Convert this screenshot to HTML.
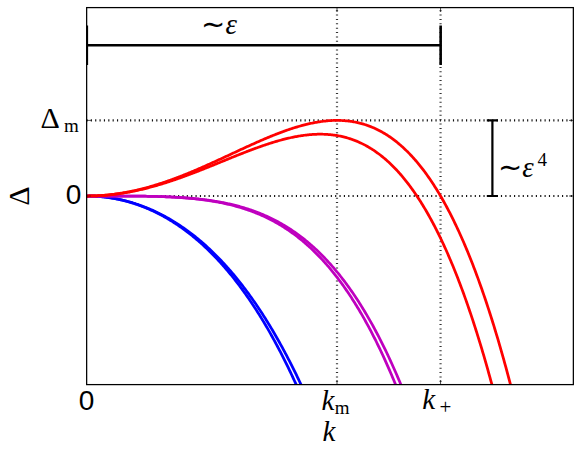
<!DOCTYPE html>
<html><head><meta charset="utf-8"><title>plot</title>
<style>
html,body{margin:0;padding:0;background:#fff;}
body{width:581px;height:455px;overflow:hidden;font-family:"Liberation Sans",sans-serif;}
svg{display:block;}
</style></head><body>
<svg width="581" height="455" viewBox="0 0 581 455">
<rect width="581" height="455" fill="#fff"/>
<defs><clipPath id="ax"><rect x="86.5" y="7.5" width="487" height="377"/></clipPath></defs>
<g stroke="#141414" stroke-width="2.2" stroke-dasharray="1.150 3.213" fill="none">
<line x1="86.43" y1="120.40" x2="573.5" y2="120.40"/>
<line x1="86.43" y1="196.0" x2="573.5" y2="196.0"/>
</g>
<g stroke="#333" stroke-width="2.2" stroke-dasharray="1.000 3.359" fill="none">
<line x1="337.00" y1="10.24" x2="337.00" y2="384.5"/>
<line x1="440.55" y1="10.24" x2="440.55" y2="384.5"/>
</g>
<g clip-path="url(#ax)" fill="none" stroke-width="2.75" stroke-linejoin="round">
<path d="M87.00,196.00 L88.00,196.00 L89.00,196.01 L90.01,196.03 L91.01,196.05 L92.01,196.08 L93.01,196.12 L94.01,196.16 L95.02,196.21 L96.02,196.26 L97.02,196.33 L98.02,196.40 L99.02,196.47 L100.03,196.55 L101.03,196.64 L102.03,196.74 L103.03,196.84 L104.03,196.95 L105.04,197.06 L106.04,197.18 L107.04,197.31 L108.04,197.44 L109.04,197.58 L110.05,197.73 L111.05,197.89 L112.05,198.05 L113.05,198.22 L114.05,198.39 L115.06,198.57 L116.06,198.76 L117.06,198.95 L118.06,199.16 L119.06,199.36 L120.07,199.58 L121.07,199.80 L122.07,200.03 L123.07,200.26 L124.07,200.51 L125.08,200.75 L126.08,201.01 L127.08,201.27 L128.08,201.54 L129.08,201.82 L130.09,202.10 L131.09,202.39 L132.09,202.69 L133.09,202.99 L134.09,203.31 L135.10,203.62 L136.10,203.95 L137.10,204.28 L138.10,204.62 L139.10,204.97 L140.11,205.32 L141.11,205.68 L142.11,206.05 L143.11,206.43 L144.11,206.81 L145.12,207.20 L146.12,207.60 L147.12,208.00 L148.12,208.41 L149.12,208.83 L150.13,209.26 L151.13,209.69 L152.13,210.13 L153.13,210.58 L154.13,211.04 L155.14,211.50 L156.14,211.98 L157.14,212.46 L158.14,212.94 L159.14,213.44 L160.15,213.94 L161.15,214.45 L162.15,214.97 L163.15,215.49 L164.15,216.03 L165.16,216.57 L166.16,217.12 L167.16,217.68 L168.16,218.24 L169.16,218.81 L170.17,219.40 L171.17,219.99 L172.17,220.58 L173.17,221.19 L174.17,221.80 L175.18,222.43 L176.18,223.06 L177.18,223.70 L178.18,224.34 L179.18,225.00 L180.19,225.66 L181.19,226.34 L182.19,227.02 L183.19,227.71 L184.19,228.41 L185.20,229.11 L186.20,229.83 L187.20,230.55 L188.20,231.29 L189.20,232.03 L190.21,232.78 L191.21,233.54 L192.21,234.31 L193.21,235.09 L194.21,235.88 L195.22,236.67 L196.22,237.48 L197.22,238.29 L198.22,239.12 L199.22,239.95 L200.23,240.80 L201.23,241.65 L202.23,242.51 L203.23,243.38 L204.23,244.26 L205.24,245.15 L206.24,246.05 L207.24,246.97 L208.24,247.89 L209.24,248.82 L210.25,249.76 L211.25,250.71 L212.25,251.67 L213.25,252.64 L214.25,253.62 L215.26,254.61 L216.26,255.61 L217.26,256.62 L218.26,257.64 L219.26,258.67 L220.27,259.71 L221.27,260.77 L222.27,261.83 L223.27,262.91 L224.27,263.99 L225.28,265.09 L226.28,266.19 L227.28,267.31 L228.28,268.44 L229.28,269.58 L230.29,270.73 L231.29,271.89 L232.29,273.07 L233.29,274.25 L234.29,275.45 L235.30,276.66 L236.30,277.88 L237.30,279.11 L238.30,280.35 L239.30,281.60 L240.31,282.87 L241.31,284.15 L242.31,285.44 L243.31,286.74 L244.31,288.05 L245.32,289.38 L246.32,290.72 L247.32,292.07 L248.32,293.43 L249.32,294.81 L250.33,296.20 L251.33,297.60 L252.33,299.01 L253.33,300.44 L254.33,301.88 L255.34,303.33 L256.34,304.79 L257.34,306.27 L258.34,307.76 L259.34,309.27 L260.35,310.78 L261.35,312.31 L262.35,313.86 L263.35,315.42 L264.35,316.99 L265.36,318.57 L266.36,320.17 L267.36,321.79 L268.36,323.41 L269.36,325.05 L270.37,326.71 L271.37,328.38 L272.37,330.06 L273.37,331.76 L274.37,333.47 L275.38,335.20 L276.38,336.94 L277.38,338.70 L278.38,340.47 L279.38,342.25 L280.39,344.05 L281.39,345.87 L282.39,347.70 L283.39,349.55 L284.39,351.41 L285.40,353.28 L286.40,355.18 L287.40,357.08 L288.40,359.01 L289.40,360.95 L290.41,362.90 L291.41,364.87 L292.41,366.86 L293.41,368.86 L294.41,370.88 L295.42,372.92 L296.42,374.97 L297.42,377.04 L298.42,379.13 L299.42,381.23 L300.43,383.35 L301.43,385.48 L302.43,387.64 L303.43,389.81 L304.43,391.99 L305.44,394.20 L306.44,396.42 L307.44,398.66 L308.44,400.92" stroke="#0000ff"/>
<path d="M87.00,196.00 L88.00,196.00 L89.00,196.01 L90.01,196.03 L91.01,196.05 L92.01,196.08 L93.01,196.12 L94.01,196.16 L95.02,196.22 L96.02,196.27 L97.02,196.34 L98.02,196.41 L99.02,196.48 L100.03,196.57 L101.03,196.66 L102.03,196.76 L103.03,196.86 L104.03,196.97 L105.04,197.09 L106.04,197.22 L107.04,197.35 L108.04,197.49 L109.04,197.63 L110.05,197.79 L111.05,197.94 L112.05,198.11 L113.05,198.28 L114.05,198.46 L115.06,198.65 L116.06,198.84 L117.06,199.05 L118.06,199.25 L119.06,199.47 L120.07,199.69 L121.07,199.92 L122.07,200.15 L123.07,200.40 L124.07,200.65 L125.08,200.90 L126.08,201.17 L127.08,201.44 L128.08,201.72 L129.08,202.00 L130.09,202.29 L131.09,202.59 L132.09,202.90 L133.09,203.22 L134.09,203.54 L135.10,203.87 L136.10,204.20 L137.10,204.55 L138.10,204.90 L139.10,205.26 L140.11,205.62 L141.11,206.00 L142.11,206.38 L143.11,206.77 L144.11,207.16 L145.12,207.56 L146.12,207.98 L147.12,208.39 L148.12,208.82 L149.12,209.26 L150.13,209.70 L151.13,210.15 L152.13,210.61 L153.13,211.07 L154.13,211.54 L155.14,212.03 L156.14,212.51 L157.14,213.01 L158.14,213.52 L159.14,214.03 L160.15,214.55 L161.15,215.08 L162.15,215.62 L163.15,216.16 L164.15,216.72 L165.16,217.28 L166.16,217.85 L167.16,218.43 L168.16,219.02 L169.16,219.62 L170.17,220.22 L171.17,220.83 L172.17,221.45 L173.17,222.09 L174.17,222.72 L175.18,223.37 L176.18,224.03 L177.18,224.69 L178.18,225.37 L179.18,226.05 L180.19,226.74 L181.19,227.45 L182.19,228.16 L183.19,228.88 L184.19,229.60 L185.20,230.34 L186.20,231.09 L187.20,231.85 L188.20,232.61 L189.20,233.39 L190.21,234.17 L191.21,234.97 L192.21,235.77 L193.21,236.58 L194.21,237.41 L195.22,238.24 L196.22,239.08 L197.22,239.93 L198.22,240.80 L199.22,241.67 L200.23,242.55 L201.23,243.45 L202.23,244.35 L203.23,245.26 L204.23,246.19 L205.24,247.12 L206.24,248.06 L207.24,249.02 L208.24,249.98 L209.24,250.96 L210.25,251.95 L211.25,252.94 L212.25,253.95 L213.25,254.97 L214.25,256.00 L215.26,257.04 L216.26,258.09 L217.26,259.16 L218.26,260.23 L219.26,261.32 L220.27,262.41 L221.27,263.52 L222.27,264.64 L223.27,265.77 L224.27,266.92 L225.28,268.07 L226.28,269.24 L227.28,270.42 L228.28,271.61 L229.28,272.81 L230.29,274.02 L231.29,275.25 L232.29,276.49 L233.29,277.74 L234.29,279.00 L235.30,280.28 L236.30,281.57 L237.30,282.87 L238.30,284.18 L239.30,285.51 L240.31,286.85 L241.31,288.20 L242.31,289.57 L243.31,290.95 L244.31,292.34 L245.32,293.74 L246.32,295.16 L247.32,296.59 L248.32,298.04 L249.32,299.50 L250.33,300.97 L251.33,302.46 L252.33,303.96 L253.33,305.47 L254.33,307.00 L255.34,308.54 L256.34,310.10 L257.34,311.67 L258.34,313.25 L259.34,314.85 L260.35,316.47 L261.35,318.10 L262.35,319.74 L263.35,321.40 L264.35,323.07 L265.36,324.76 L266.36,326.47 L267.36,328.18 L268.36,329.92 L269.36,331.67 L270.37,333.43 L271.37,335.22 L272.37,337.01 L273.37,338.82 L274.37,340.65 L275.38,342.50 L276.38,344.36 L277.38,346.23 L278.38,348.13 L279.38,350.04 L280.39,351.96 L281.39,353.90 L282.39,355.86 L283.39,357.84 L284.39,359.83 L285.40,361.84 L286.40,363.87 L287.40,365.91 L288.40,367.97 L289.40,370.05 L290.41,372.15 L291.41,374.26 L292.41,376.40 L293.41,378.55 L294.41,380.71 L295.42,382.90 L296.42,385.10 L297.42,387.33 L298.42,389.57 L299.42,391.83 L300.43,394.10 L301.43,396.40 L302.43,398.72 L303.43,401.05" stroke="#0000ff"/>
<path d="M87.00,196.00 L88.00,196.00 L89.00,196.00 L90.01,196.00 L91.01,196.00 L92.01,196.00 L93.01,196.00 L94.01,196.00 L95.02,196.00 L96.02,196.00 L97.02,196.00 L98.02,196.00 L99.02,196.00 L100.03,196.00 L101.03,196.00 L102.03,196.00 L103.03,196.00 L104.03,196.00 L105.04,196.00 L106.04,196.00 L107.04,196.00 L108.04,196.00 L109.04,196.00 L110.05,196.01 L111.05,196.01 L112.05,196.01 L113.05,196.01 L114.05,196.01 L115.06,196.01 L116.06,196.01 L117.06,196.02 L118.06,196.02 L119.06,196.02 L120.07,196.02 L121.07,196.03 L122.07,196.03 L123.07,196.03 L124.07,196.04 L125.08,196.04 L126.08,196.05 L127.08,196.05 L128.08,196.06 L129.08,196.06 L130.09,196.07 L131.09,196.07 L132.09,196.08 L133.09,196.09 L134.09,196.10 L135.10,196.10 L136.10,196.11 L137.10,196.12 L138.10,196.13 L139.10,196.14 L140.11,196.15 L141.11,196.17 L142.11,196.18 L143.11,196.19 L144.11,196.21 L145.12,196.22 L146.12,196.24 L147.12,196.25 L148.12,196.27 L149.12,196.29 L150.13,196.31 L151.13,196.33 L152.13,196.35 L153.13,196.37 L154.13,196.39 L155.14,196.42 L156.14,196.44 L157.14,196.47 L158.14,196.50 L159.14,196.53 L160.15,196.56 L161.15,196.59 L162.15,196.62 L163.15,196.65 L164.15,196.69 L165.16,196.72 L166.16,196.76 L167.16,196.80 L168.16,196.84 L169.16,196.89 L170.17,196.93 L171.17,196.97 L172.17,197.02 L173.17,197.07 L174.17,197.12 L175.18,197.17 L176.18,197.23 L177.18,197.28 L178.18,197.34 L179.18,197.40 L180.19,197.46 L181.19,197.53 L182.19,197.60 L183.19,197.66 L184.19,197.73 L185.20,197.81 L186.20,197.88 L187.20,197.96 L188.20,198.04 L189.20,198.12 L190.21,198.20 L191.21,198.29 L192.21,198.38 L193.21,198.47 L194.21,198.57 L195.22,198.66 L196.22,198.76 L197.22,198.87 L198.22,198.97 L199.22,199.08 L200.23,199.19 L201.23,199.31 L202.23,199.43 L203.23,199.55 L204.23,199.67 L205.24,199.80 L206.24,199.93 L207.24,200.06 L208.24,200.20 L209.24,200.34 L210.25,200.48 L211.25,200.63 L212.25,200.78 L213.25,200.94 L214.25,201.09 L215.26,201.26 L216.26,201.42 L217.26,201.59 L218.26,201.77 L219.26,201.95 L220.27,202.13 L221.27,202.31 L222.27,202.50 L223.27,202.70 L224.27,202.90 L225.28,203.10 L226.28,203.31 L227.28,203.52 L228.28,203.74 L229.28,203.96 L230.29,204.19 L231.29,204.42 L232.29,204.66 L233.29,204.90 L234.29,205.14 L235.30,205.40 L236.30,205.65 L237.30,205.91 L238.30,206.18 L239.30,206.45 L240.31,206.73 L241.31,207.01 L242.31,207.30 L243.31,207.60 L244.31,207.90 L245.32,208.20 L246.32,208.52 L247.32,208.83 L248.32,209.16 L249.32,209.49 L250.33,209.82 L251.33,210.17 L252.33,210.52 L253.33,210.87 L254.33,211.23 L255.34,211.60 L256.34,211.97 L257.34,212.36 L258.34,212.74 L259.34,213.14 L260.35,213.54 L261.35,213.95 L262.35,214.37 L263.35,214.79 L264.35,215.22 L265.36,215.66 L266.36,216.10 L267.36,216.56 L268.36,217.02 L269.36,217.49 L270.37,217.96 L271.37,218.45 L272.37,218.94 L273.37,219.44 L274.37,219.95 L275.38,220.46 L276.38,220.99 L277.38,221.52 L278.38,222.06 L279.38,222.61 L280.39,223.17 L281.39,223.74 L282.39,224.32 L283.39,224.90 L284.39,225.50 L285.40,226.10 L286.40,226.71 L287.40,227.33 L288.40,227.96 L289.40,228.61 L290.41,229.26 L291.41,229.92 L292.41,230.59 L293.41,231.27 L294.41,231.96 L295.42,232.66 L296.42,233.37 L297.42,234.09 L298.42,234.82 L299.42,235.56 L300.43,236.31 L301.43,237.07 L302.43,237.84 L303.43,238.63 L304.43,239.42 L305.44,240.23 L306.44,241.05 L307.44,241.88 L308.44,242.71 L309.44,243.57 L310.45,244.43 L311.45,245.30 L312.45,246.19 L313.45,247.09 L314.45,248.00 L315.46,248.92 L316.46,249.86 L317.46,250.80 L318.46,251.76 L319.46,252.73 L320.47,253.72 L321.47,254.72 L322.47,255.73 L323.47,256.75 L324.47,257.78 L325.48,258.83 L326.48,259.90 L327.48,260.97 L328.48,262.06 L329.48,263.17 L330.49,264.28 L331.49,265.41 L332.49,266.56 L333.49,267.72 L334.49,268.89 L335.50,270.08 L336.50,271.28 L337.50,272.50 L338.50,273.73 L339.51,274.97 L340.51,276.24 L341.51,277.51 L342.51,278.80 L343.51,280.11 L344.52,281.43 L345.52,282.77 L346.52,284.12 L347.52,285.49 L348.52,286.88 L349.53,288.28 L350.53,289.69 L351.53,291.13 L352.53,292.58 L353.53,294.04 L354.54,295.52 L355.54,297.02 L356.54,298.54 L357.54,300.07 L358.54,301.62 L359.55,303.19 L360.55,304.78 L361.55,306.38 L362.55,308.00 L363.55,309.64 L364.56,311.29 L365.56,312.97 L366.56,314.66 L367.56,316.37 L368.56,318.10 L369.57,319.85 L370.57,321.61 L371.57,323.40 L372.57,325.20 L373.57,327.02 L374.58,328.87 L375.58,330.73 L376.58,332.61 L377.58,334.51 L378.58,336.43 L379.59,338.37 L380.59,340.33 L381.59,342.31 L382.59,344.31 L383.59,346.33 L384.60,348.37 L385.60,350.44 L386.60,352.52 L387.60,354.63 L388.60,356.75 L389.61,358.90 L390.61,361.07 L391.61,363.26 L392.61,365.47 L393.61,367.70 L394.62,369.96 L395.62,372.23 L396.62,374.53 L397.62,376.86 L398.62,379.20 L399.63,381.57 L400.63,383.96 L401.63,386.37 L402.63,388.81 L403.63,391.27 L404.64,393.75 L405.64,396.26 L406.64,398.79 L407.64,401.35" stroke="#bf00bf"/>
<path d="M87.00,196.00 L88.00,196.00 L89.00,196.00 L90.01,196.00 L91.01,196.00 L92.01,196.00 L93.01,196.00 L94.01,196.00 L95.02,196.00 L96.02,196.00 L97.02,196.00 L98.02,196.00 L99.02,196.00 L100.03,196.00 L101.03,196.00 L102.03,196.00 L103.03,196.00 L104.03,196.00 L105.04,196.00 L106.04,196.00 L107.04,196.00 L108.04,196.00 L109.04,196.00 L110.05,196.01 L111.05,196.01 L112.05,196.01 L113.05,196.01 L114.05,196.01 L115.06,196.01 L116.06,196.01 L117.06,196.02 L118.06,196.02 L119.06,196.02 L120.07,196.02 L121.07,196.03 L122.07,196.03 L123.07,196.04 L124.07,196.04 L125.08,196.04 L126.08,196.05 L127.08,196.05 L128.08,196.06 L129.08,196.07 L130.09,196.07 L131.09,196.08 L132.09,196.09 L133.09,196.09 L134.09,196.10 L135.10,196.11 L136.10,196.12 L137.10,196.13 L138.10,196.14 L139.10,196.15 L140.11,196.17 L141.11,196.18 L142.11,196.19 L143.11,196.21 L144.11,196.22 L145.12,196.24 L146.12,196.25 L147.12,196.27 L148.12,196.29 L149.12,196.31 L150.13,196.33 L151.13,196.35 L152.13,196.37 L153.13,196.40 L154.13,196.42 L155.14,196.45 L156.14,196.48 L157.14,196.50 L158.14,196.53 L159.14,196.56 L160.15,196.60 L161.15,196.63 L162.15,196.66 L163.15,196.70 L164.15,196.74 L165.16,196.78 L166.16,196.82 L167.16,196.86 L168.16,196.90 L169.16,196.95 L170.17,197.00 L171.17,197.04 L172.17,197.09 L173.17,197.15 L174.17,197.20 L175.18,197.26 L176.18,197.32 L177.18,197.38 L178.18,197.44 L179.18,197.50 L180.19,197.57 L181.19,197.64 L182.19,197.71 L183.19,197.78 L184.19,197.86 L185.20,197.93 L186.20,198.01 L187.20,198.10 L188.20,198.18 L189.20,198.27 L190.21,198.36 L191.21,198.45 L192.21,198.55 L193.21,198.65 L194.21,198.75 L195.22,198.85 L196.22,198.96 L197.22,199.07 L198.22,199.18 L199.22,199.30 L200.23,199.42 L201.23,199.54 L202.23,199.67 L203.23,199.80 L204.23,199.93 L205.24,200.06 L206.24,200.20 L207.24,200.35 L208.24,200.49 L209.24,200.64 L210.25,200.80 L211.25,200.96 L212.25,201.12 L213.25,201.28 L214.25,201.45 L215.26,201.63 L216.26,201.81 L217.26,201.99 L218.26,202.17 L219.26,202.37 L220.27,202.56 L221.27,202.76 L222.27,202.96 L223.27,203.17 L224.27,203.39 L225.28,203.60 L226.28,203.83 L227.28,204.05 L228.28,204.29 L229.28,204.52 L230.29,204.77 L231.29,205.02 L232.29,205.27 L233.29,205.53 L234.29,205.79 L235.30,206.06 L236.30,206.33 L237.30,206.61 L238.30,206.90 L239.30,207.19 L240.31,207.49 L241.31,207.79 L242.31,208.10 L243.31,208.42 L244.31,208.74 L245.32,209.07 L246.32,209.40 L247.32,209.74 L248.32,210.09 L249.32,210.44 L250.33,210.80 L251.33,211.17 L252.33,211.54 L253.33,211.92 L254.33,212.31 L255.34,212.70 L256.34,213.10 L257.34,213.51 L258.34,213.93 L259.34,214.35 L260.35,214.78 L261.35,215.22 L262.35,215.66 L263.35,216.12 L264.35,216.58 L265.36,217.05 L266.36,217.52 L267.36,218.01 L268.36,218.50 L269.36,219.00 L270.37,219.51 L271.37,220.03 L272.37,220.56 L273.37,221.09 L274.37,221.64 L275.38,222.19 L276.38,222.75 L277.38,223.32 L278.38,223.90 L279.38,224.49 L280.39,225.09 L281.39,225.70 L282.39,226.32 L283.39,226.94 L284.39,227.58 L285.40,228.22 L286.40,228.88 L287.40,229.55 L288.40,230.22 L289.40,230.91 L290.41,231.61 L291.41,232.31 L292.41,233.03 L293.41,233.76 L294.41,234.50 L295.42,235.24 L296.42,236.00 L297.42,236.78 L298.42,237.56 L299.42,238.35 L300.43,239.16 L301.43,239.97 L302.43,240.80 L303.43,241.64 L304.43,242.49 L305.44,243.35 L306.44,244.23 L307.44,245.12 L308.44,246.01 L309.44,246.93 L310.45,247.85 L311.45,248.79 L312.45,249.73 L313.45,250.70 L314.45,251.67 L315.46,252.66 L316.46,253.66 L317.46,254.67 L318.46,255.70 L319.46,256.74 L320.47,257.79 L321.47,258.86 L322.47,259.94 L323.47,261.04 L324.47,262.15 L325.48,263.27 L326.48,264.41 L327.48,265.56 L328.48,266.73 L329.48,267.91 L330.49,269.11 L331.49,270.32 L332.49,271.54 L333.49,272.78 L334.49,274.04 L335.50,275.31 L336.50,276.60 L337.50,277.90 L338.50,279.22 L339.51,280.55 L340.51,281.90 L341.51,283.27 L342.51,284.65 L343.51,286.05 L344.52,287.47 L345.52,288.90 L346.52,290.35 L347.52,291.81 L348.52,293.29 L349.53,294.79 L350.53,296.31 L351.53,297.85 L352.53,299.40 L353.53,300.97 L354.54,302.55 L355.54,304.16 L356.54,305.78 L357.54,307.42 L358.54,309.08 L359.55,310.76 L360.55,312.46 L361.55,314.18 L362.55,315.91 L363.55,317.66 L364.56,319.44 L365.56,321.23 L366.56,323.04 L367.56,324.87 L368.56,326.72 L369.57,328.59 L370.57,330.48 L371.57,332.40 L372.57,334.33 L373.57,336.28 L374.58,338.25 L375.58,340.24 L376.58,342.26 L377.58,344.29 L378.58,346.35 L379.59,348.43 L380.59,350.52 L381.59,352.64 L382.59,354.79 L383.59,356.95 L384.60,359.14 L385.60,361.35 L386.60,363.58 L387.60,365.83 L388.60,368.10 L389.61,370.40 L390.61,372.72 L391.61,375.07 L392.61,377.44 L393.61,379.83 L394.62,382.24 L395.62,384.68 L396.62,387.14 L397.62,389.63 L398.62,392.14 L399.63,394.68 L400.63,397.24 L401.63,399.82 L402.63,402.43" stroke="#bf00bf"/>
<path d="M87.00,196.00 L88.00,196.00 L89.00,195.99 L90.01,195.98 L91.01,195.96 L92.01,195.94 L93.01,195.91 L94.01,195.88 L95.02,195.84 L96.02,195.80 L97.02,195.76 L98.02,195.71 L99.02,195.65 L100.03,195.59 L101.03,195.52 L102.03,195.45 L103.03,195.38 L104.03,195.30 L105.04,195.22 L106.04,195.13 L107.04,195.03 L108.04,194.93 L109.04,194.83 L110.05,194.72 L111.05,194.61 L112.05,194.49 L113.05,194.37 L114.05,194.24 L115.06,194.11 L116.06,193.97 L117.06,193.83 L118.06,193.68 L119.06,193.53 L120.07,193.38 L121.07,193.22 L122.07,193.05 L123.07,192.88 L124.07,192.71 L125.08,192.53 L126.08,192.35 L127.08,192.16 L128.08,191.97 L129.08,191.78 L130.09,191.58 L131.09,191.37 L132.09,191.16 L133.09,190.95 L134.09,190.73 L135.10,190.51 L136.10,190.28 L137.10,190.05 L138.10,189.81 L139.10,189.57 L140.11,189.33 L141.11,189.08 L142.11,188.83 L143.11,188.57 L144.11,188.31 L145.12,188.05 L146.12,187.78 L147.12,187.51 L148.12,187.23 L149.12,186.95 L150.13,186.67 L151.13,186.38 L152.13,186.09 L153.13,185.79 L154.13,185.49 L155.14,185.19 L156.14,184.88 L157.14,184.57 L158.14,184.25 L159.14,183.93 L160.15,183.61 L161.15,183.28 L162.15,182.95 L163.15,182.62 L164.15,182.28 L165.16,181.94 L166.16,181.60 L167.16,181.25 L168.16,180.90 L169.16,180.55 L170.17,180.19 L171.17,179.83 L172.17,179.47 L173.17,179.10 L174.17,178.73 L175.18,178.36 L176.18,177.98 L177.18,177.61 L178.18,177.22 L179.18,176.84 L180.19,176.45 L181.19,176.06 L182.19,175.67 L183.19,175.27 L184.19,174.87 L185.20,174.47 L186.20,174.07 L187.20,173.66 L188.20,173.25 L189.20,172.84 L190.21,172.43 L191.21,172.01 L192.21,171.59 L193.21,171.17 L194.21,170.75 L195.22,170.32 L196.22,169.90 L197.22,169.47 L198.22,169.04 L199.22,168.60 L200.23,168.17 L201.23,167.73 L202.23,167.29 L203.23,166.85 L204.23,166.41 L205.24,165.96 L206.24,165.52 L207.24,165.07 L208.24,164.62 L209.24,164.17 L210.25,163.72 L211.25,163.27 L212.25,162.81 L213.25,162.36 L214.25,161.90 L215.26,161.44 L216.26,160.98 L217.26,160.52 L218.26,160.06 L219.26,159.60 L220.27,159.14 L221.27,158.68 L222.27,158.21 L223.27,157.75 L224.27,157.28 L225.28,156.82 L226.28,156.35 L227.28,155.89 L228.28,155.42 L229.28,154.96 L230.29,154.49 L231.29,154.02 L232.29,153.56 L233.29,153.09 L234.29,152.62 L235.30,152.16 L236.30,151.69 L237.30,151.23 L238.30,150.76 L239.30,150.30 L240.31,149.83 L241.31,149.37 L242.31,148.91 L243.31,148.44 L244.31,147.98 L245.32,147.52 L246.32,147.06 L247.32,146.61 L248.32,146.15 L249.32,145.69 L250.33,145.24 L251.33,144.79 L252.33,144.33 L253.33,143.88 L254.33,143.43 L255.34,142.99 L256.34,142.54 L257.34,142.10 L258.34,141.66 L259.34,141.22 L260.35,140.78 L261.35,140.35 L262.35,139.91 L263.35,139.48 L264.35,139.05 L265.36,138.63 L266.36,138.20 L267.36,137.78 L268.36,137.37 L269.36,136.95 L270.37,136.54 L271.37,136.13 L272.37,135.72 L273.37,135.32 L274.37,134.92 L275.38,134.52 L276.38,134.13 L277.38,133.74 L278.38,133.36 L279.38,132.97 L280.39,132.59 L281.39,132.22 L282.39,131.85 L283.39,131.48 L284.39,131.12 L285.40,130.76 L286.40,130.41 L287.40,130.06 L288.40,129.71 L289.40,129.37 L290.41,129.04 L291.41,128.71 L292.41,128.38 L293.41,128.06 L294.41,127.74 L295.42,127.43 L296.42,127.13 L297.42,126.83 L298.42,126.53 L299.42,126.24 L300.43,125.96 L301.43,125.68 L302.43,125.41 L303.43,125.14 L304.43,124.88 L305.44,124.63 L306.44,124.38 L307.44,124.14 L308.44,123.91 L309.44,123.68 L310.45,123.46 L311.45,123.24 L312.45,123.04 L313.45,122.84 L314.45,122.64 L315.46,122.46 L316.46,122.28 L317.46,122.11 L318.46,121.94 L319.46,121.79 L320.47,121.64 L321.47,121.50 L322.47,121.36 L323.47,121.24 L324.47,121.12 L325.48,121.01 L326.48,120.91 L327.48,120.82 L328.48,120.74 L329.48,120.67 L330.49,120.60 L331.49,120.54 L332.49,120.50 L333.49,120.46 L334.49,120.43 L335.50,120.41 L336.50,120.40 L337.50,120.40 L338.50,120.41 L339.51,120.43 L340.51,120.46 L341.51,120.50 L342.51,120.55 L343.51,120.61 L344.52,120.68 L345.52,120.76 L346.52,120.86 L347.52,120.96 L348.52,121.07 L349.53,121.20 L350.53,121.33 L351.53,121.48 L352.53,121.64 L353.53,121.81 L354.54,121.99 L355.54,122.19 L356.54,122.39 L357.54,122.61 L358.54,122.84 L359.55,123.09 L360.55,123.34 L361.55,123.61 L362.55,123.89 L363.55,124.18 L364.56,124.49 L365.56,124.81 L366.56,125.14 L367.56,125.49 L368.56,125.85 L369.57,126.22 L370.57,126.61 L371.57,127.01 L372.57,127.42 L373.57,127.85 L374.58,128.30 L375.58,128.75 L376.58,129.23 L377.58,129.71 L378.58,130.22 L379.59,130.73 L380.59,131.26 L381.59,131.81 L382.59,132.37 L383.59,132.95 L384.60,133.55 L385.60,134.16 L386.60,134.78 L387.60,135.42 L388.60,136.08 L389.61,136.75 L390.61,137.45 L391.61,138.15 L392.61,138.88 L393.61,139.62 L394.62,140.38 L395.62,141.15 L396.62,141.94 L397.62,142.75 L398.62,143.58 L399.63,144.43 L400.63,145.29 L401.63,146.17 L402.63,147.07 L403.63,147.99 L404.64,148.93 L405.64,149.88 L406.64,150.86 L407.64,151.85 L408.64,152.86 L409.65,153.89 L410.65,154.94 L411.65,156.01 L412.65,157.10 L413.65,158.21 L414.66,159.34 L415.66,160.49 L416.66,161.66 L417.66,162.86 L418.66,164.07 L419.67,165.30 L420.67,166.55 L421.67,167.83 L422.67,169.12 L423.67,170.44 L424.68,171.78 L425.68,173.14 L426.68,174.52 L427.68,175.93 L428.68,177.35 L429.69,178.80 L430.69,180.27 L431.69,181.77 L432.69,183.29 L433.69,184.83 L434.70,186.39 L435.70,187.98 L436.70,189.59 L437.70,191.22 L438.70,192.88 L439.71,194.56 L440.71,196.26 L441.71,197.99 L442.71,199.75 L443.71,201.53 L444.72,203.33 L445.72,205.16 L446.72,207.01 L447.72,208.89 L448.72,210.80 L449.73,212.73 L450.73,214.69 L451.73,216.67 L452.73,218.68 L453.73,220.71 L454.74,222.77 L455.74,224.86 L456.74,226.97 L457.74,229.12 L458.74,231.29 L459.75,233.48 L460.75,235.71 L461.75,237.96 L462.75,240.24 L463.75,242.54 L464.76,244.88 L465.76,247.24 L466.76,249.64 L467.76,252.06 L468.76,254.51 L469.77,256.99 L470.77,259.50 L471.77,262.04 L472.77,264.61 L473.77,267.20 L474.78,269.83 L475.78,272.49 L476.78,275.18 L477.78,277.90 L478.78,280.65 L479.79,283.43 L480.79,286.24 L481.79,289.08 L482.79,291.96 L483.79,294.86 L484.80,297.80 L485.80,300.77 L486.80,303.78 L487.80,306.81 L488.80,309.88 L489.81,312.98 L490.81,316.11 L491.81,319.28 L492.81,322.48 L493.81,325.71 L494.82,328.98 L495.82,332.28 L496.82,335.61 L497.82,338.98 L498.82,342.39 L499.83,345.83 L500.83,349.30 L501.83,352.81 L502.83,356.35 L503.83,359.93 L504.84,363.55 L505.84,367.20 L506.84,370.89 L507.84,374.61 L508.84,378.37 L509.85,382.16 L510.85,386.00 L511.85,389.87 L512.85,393.77 L513.85,397.72 L514.86,401.70" stroke="#ff0000"/>
<path d="M87.00,196.00 L88.00,196.00 L89.00,195.99 L90.01,195.98 L91.01,195.96 L92.01,195.94 L93.01,195.92 L94.01,195.89 L95.02,195.85 L96.02,195.82 L97.02,195.77 L98.02,195.72 L99.02,195.67 L100.03,195.62 L101.03,195.55 L102.03,195.49 L103.03,195.42 L104.03,195.34 L105.04,195.26 L106.04,195.18 L107.04,195.09 L108.04,195.00 L109.04,194.90 L110.05,194.80 L111.05,194.69 L112.05,194.58 L113.05,194.47 L114.05,194.35 L115.06,194.23 L116.06,194.10 L117.06,193.96 L118.06,193.83 L119.06,193.69 L120.07,193.54 L121.07,193.39 L122.07,193.24 L123.07,193.08 L124.07,192.92 L125.08,192.75 L126.08,192.58 L127.08,192.41 L128.08,192.23 L129.08,192.04 L130.09,191.86 L131.09,191.66 L132.09,191.47 L133.09,191.27 L134.09,191.07 L135.10,190.86 L136.10,190.65 L137.10,190.43 L138.10,190.21 L139.10,189.99 L140.11,189.76 L141.11,189.53 L142.11,189.29 L143.11,189.06 L144.11,188.81 L145.12,188.57 L146.12,188.32 L147.12,188.06 L148.12,187.81 L149.12,187.54 L150.13,187.28 L151.13,187.01 L152.13,186.74 L153.13,186.47 L154.13,186.19 L155.14,185.90 L156.14,185.62 L157.14,185.33 L158.14,185.04 L159.14,184.74 L160.15,184.44 L161.15,184.14 L162.15,183.84 L163.15,183.53 L164.15,183.22 L165.16,182.90 L166.16,182.59 L167.16,182.27 L168.16,181.94 L169.16,181.62 L170.17,181.29 L171.17,180.96 L172.17,180.62 L173.17,180.28 L174.17,179.94 L175.18,179.60 L176.18,179.26 L177.18,178.91 L178.18,178.56 L179.18,178.21 L180.19,177.85 L181.19,177.49 L182.19,177.13 L183.19,176.77 L184.19,176.41 L185.20,176.04 L186.20,175.67 L187.20,175.30 L188.20,174.93 L189.20,174.55 L190.21,174.17 L191.21,173.80 L192.21,173.42 L193.21,173.03 L194.21,172.65 L195.22,172.26 L196.22,171.88 L197.22,171.49 L198.22,171.10 L199.22,170.70 L200.23,170.31 L201.23,169.92 L202.23,169.52 L203.23,169.12 L204.23,168.72 L205.24,168.33 L206.24,167.93 L207.24,167.52 L208.24,167.12 L209.24,166.72 L210.25,166.31 L211.25,165.91 L212.25,165.50 L213.25,165.10 L214.25,164.69 L215.26,164.28 L216.26,163.88 L217.26,163.47 L218.26,163.06 L219.26,162.65 L220.27,162.24 L221.27,161.83 L222.27,161.43 L223.27,161.02 L224.27,160.61 L225.28,160.20 L226.28,159.79 L227.28,159.38 L228.28,158.98 L229.28,158.57 L230.29,158.16 L231.29,157.76 L232.29,157.35 L233.29,156.95 L234.29,156.55 L235.30,156.14 L236.30,155.74 L237.30,155.34 L238.30,154.94 L239.30,154.54 L240.31,154.14 L241.31,153.75 L242.31,153.35 L243.31,152.96 L244.31,152.57 L245.32,152.18 L246.32,151.79 L247.32,151.41 L248.32,151.02 L249.32,150.64 L250.33,150.26 L251.33,149.88 L252.33,149.51 L253.33,149.13 L254.33,148.76 L255.34,148.39 L256.34,148.03 L257.34,147.67 L258.34,147.30 L259.34,146.95 L260.35,146.59 L261.35,146.24 L262.35,145.89 L263.35,145.55 L264.35,145.20 L265.36,144.87 L266.36,144.53 L267.36,144.20 L268.36,143.87 L269.36,143.54 L270.37,143.22 L271.37,142.91 L272.37,142.59 L273.37,142.28 L274.37,141.98 L275.38,141.68 L276.38,141.38 L277.38,141.09 L278.38,140.80 L279.38,140.52 L280.39,140.24 L281.39,139.97 L282.39,139.70 L283.39,139.44 L284.39,139.18 L285.40,138.93 L286.40,138.68 L287.40,138.44 L288.40,138.21 L289.40,137.98 L290.41,137.75 L291.41,137.53 L292.41,137.32 L293.41,137.11 L294.41,136.91 L295.42,136.72 L296.42,136.53 L297.42,136.35 L298.42,136.17 L299.42,136.00 L300.43,135.84 L301.43,135.69 L302.43,135.54 L303.43,135.40 L304.43,135.26 L305.44,135.14 L306.44,135.02 L307.44,134.91 L308.44,134.80 L309.44,134.71 L310.45,134.62 L311.45,134.54 L312.45,134.47 L313.45,134.41 L314.45,134.35 L315.46,134.30 L316.46,134.27 L317.46,134.24 L318.46,134.21 L319.46,134.20 L320.47,134.20 L321.47,134.21 L322.47,134.22 L323.47,134.25 L324.47,134.28 L325.48,134.33 L326.48,134.38 L327.48,134.44 L328.48,134.52 L329.48,134.60 L330.49,134.69 L331.49,134.80 L332.49,134.91 L333.49,135.04 L334.49,135.18 L335.50,135.32 L336.50,135.48 L337.50,135.65 L338.50,135.83 L339.51,136.02 L340.51,136.22 L341.51,136.44 L342.51,136.67 L343.51,136.90 L344.52,137.15 L345.52,137.42 L346.52,137.69 L347.52,137.98 L348.52,138.28 L349.53,138.59 L350.53,138.91 L351.53,139.25 L352.53,139.60 L353.53,139.97 L354.54,140.34 L355.54,140.73 L356.54,141.14 L357.54,141.56 L358.54,141.99 L359.55,142.43 L360.55,142.89 L361.55,143.37 L362.55,143.86 L363.55,144.36 L364.56,144.88 L365.56,145.41 L366.56,145.96 L367.56,146.52 L368.56,147.10 L369.57,147.69 L370.57,148.30 L371.57,148.93 L372.57,149.57 L373.57,150.22 L374.58,150.89 L375.58,151.58 L376.58,152.29 L377.58,153.01 L378.58,153.75 L379.59,154.50 L380.59,155.27 L381.59,156.06 L382.59,156.87 L383.59,157.69 L384.60,158.53 L385.60,159.39 L386.60,160.27 L387.60,161.16 L388.60,162.08 L389.61,163.01 L390.61,163.96 L391.61,164.93 L392.61,165.91 L393.61,166.92 L394.62,167.94 L395.62,168.99 L396.62,170.05 L397.62,171.13 L398.62,172.24 L399.63,173.36 L400.63,174.50 L401.63,175.67 L402.63,176.85 L403.63,178.05 L404.64,179.28 L405.64,180.52 L406.64,181.79 L407.64,183.08 L408.64,184.39 L409.65,185.72 L410.65,187.07 L411.65,188.44 L412.65,189.84 L413.65,191.25 L414.66,192.69 L415.66,194.16 L416.66,195.64 L417.66,197.15 L418.66,198.68 L419.67,200.23 L420.67,201.81 L421.67,203.41 L422.67,205.03 L423.67,206.68 L424.68,208.35 L425.68,210.05 L426.68,211.77 L427.68,213.51 L428.68,215.28 L429.69,217.08 L430.69,218.89 L431.69,220.74 L432.69,222.61 L433.69,224.50 L434.70,226.42 L435.70,228.37 L436.70,230.34 L437.70,232.34 L438.70,234.36 L439.71,236.42 L440.71,238.49 L441.71,240.60 L442.71,242.73 L443.71,244.89 L444.72,247.08 L445.72,249.29 L446.72,251.53 L447.72,253.80 L448.72,256.10 L449.73,258.43 L450.73,260.78 L451.73,263.17 L452.73,265.58 L453.73,268.02 L454.74,270.49 L455.74,272.99 L456.74,275.52 L457.74,278.08 L458.74,280.67 L459.75,283.29 L460.75,285.94 L461.75,288.63 L462.75,291.34 L463.75,294.08 L464.76,296.85 L465.76,299.66 L466.76,302.50 L467.76,305.36 L468.76,308.27 L469.77,311.20 L470.77,314.16 L471.77,317.16 L472.77,320.19 L473.77,323.25 L474.78,326.35 L475.78,329.48 L476.78,332.64 L477.78,335.84 L478.78,339.07 L479.79,342.33 L480.79,345.63 L481.79,348.96 L482.79,352.33 L483.79,355.73 L484.80,359.17 L485.80,362.64 L486.80,366.15 L487.80,369.69 L488.80,373.27 L489.81,376.88 L490.81,380.54 L491.81,384.22 L492.81,387.95 L493.81,391.71 L494.82,395.51 L495.82,399.34 L496.82,403.22" stroke="#ff0000"/>
</g>
<g clip-path="url(#ax)" stroke="#000" stroke-width="2.22" fill="none">
<line x1="87.0" y1="45.3" x2="440.55" y2="45.3" stroke-width="2.4"/>
<line x1="87.0" y1="25.5" x2="87.0" y2="65"/>
<line x1="440.65" y1="25.5" x2="440.65" y2="65" stroke-width="2.6"/>
<line x1="492.4" y1="120.40" x2="492.4" y2="196.0"/>
<line x1="486.8" y1="120.40" x2="498" y2="120.40"/>
<line x1="486.8" y1="196.0" x2="498" y2="196.0"/>
</g>
<rect x="86.65" y="7.6" width="486.7" height="377" fill="none" stroke="#000" stroke-width="1.25"/>
<g stroke="#000" stroke-width="0.7" fill="none">
<line x1="337.00" y1="384.5" x2="337.00" y2="380.06"/><line x1="440.55" y1="384.5" x2="440.55" y2="380.06"/>
<line x1="337.00" y1="7.5" x2="337.00" y2="11.94"/><line x1="440.55" y1="7.5" x2="440.55" y2="11.94"/>
<line x1="86.5" y1="120.40" x2="90.94" y2="120.40"/><line x1="86.5" y1="196.0" x2="90.94" y2="196.0" opacity="0.6"/>
<line x1="573.5" y1="120.40" x2="569.06" y2="120.40"/><line x1="573.5" y1="196.0" x2="569.06" y2="196.0"/>
</g>
<g fill="#000" stroke="none">
<text x="73.45" y="204" font-family="'Liberation Sans', sans-serif" font-size="28" text-anchor="middle">0</text>
<text x="86.6" y="409.9" font-family="'Liberation Sans', sans-serif" font-size="28" text-anchor="middle">0</text>
<text transform="translate(28.6 196.1) rotate(-90)" font-family="'Liberation Serif', serif" font-size="30" text-anchor="middle">Δ</text>
<text x="40.5" y="127.6" font-family="'Liberation Serif', serif" font-size="30">Δ<tspan x="64" y="132.4" font-size="19">m</tspan></text>
<text x="321.5" y="409.5" font-family="'Liberation Serif', serif" font-size="29" font-style="italic">k<tspan x="334.8" y="413.7" font-size="19" font-style="normal">m</tspan></text>
<text x="422.3" y="408.7" font-family="'Liberation Serif', serif" font-size="29" font-style="italic">k<tspan x="439.5" y="414" font-size="21" font-style="normal">+</tspan></text>
<text x="322.6" y="441.3" font-family="'Liberation Serif', serif" font-size="29" font-style="italic">k</text>
<text x="200.5" y="34" font-family="'Liberation Serif', serif" font-size="29">∼<tspan x="225.5" y="34" font-style="italic">ε</tspan></text>
<text x="498" y="177" font-family="'Liberation Serif', serif" font-size="29">∼<tspan x="522.3" y="177" font-style="italic">ε</tspan><tspan x="537.5" y="166.3" font-size="19">4</tspan></text>
</g>
</svg>
</body></html>
